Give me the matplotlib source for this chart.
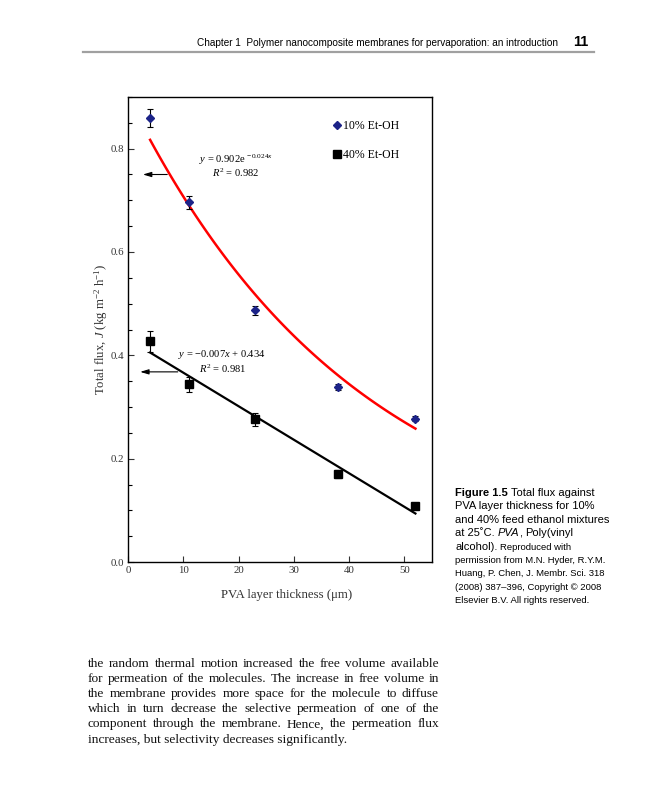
import numpy as np
import matplotlib
matplotlib.use('Agg')
import matplotlib.pyplot as plt
from matplotlib.lines import Line2D
from matplotlib.ticker import MultipleLocator

# values
thickness = [4, 11, 23, 38, 52]                      # PVA layer thickness (um)
flux_10 = [0.859, 0.696, 0.487, 0.338, 0.277]        # 10% Et-OH
err_10 = [0.018, 0.013, 0.009, 0.006, 0.005]
flux_40 = [0.427, 0.344, 0.276, 0.170, 0.109]        # 40% Et-OH
err_40 = [0.020, 0.015, 0.013, 0.008, 0.006]

header = "Chapter 1  Polymer nanocomposite membranes for pervaporation: an introduction"
page_no = "11"
body = ["the random thermal motion increased the free volume available",
        "for permeation of the molecules. The increase in free volume in",
        "the membrane provides more space for the molecule to diffuse",
        "which in turn decrease the selective permeation of one of the",
        "component through the membrane. Hence, the permeation flux",
        "increases, but selectivity decreases significantly."]

W, H = 648, 800
serif = ['Liberation Serif', 'DejaVu Serif']
sans = ['Liberation Sans', 'DejaVu Sans']

plt.rcParams['font.family'] = serif
plt.rcParams['mathtext.fontset'] = 'custom'
plt.rcParams['mathtext.rm'] = 'Liberation Serif'
plt.rcParams['mathtext.it'] = 'Liberation Serif:italic'


def px(x, y):
    return x / W, 1 - y / H


fig = plt.figure(figsize=(6.48, 8), dpi=100)
ax = fig.add_axes([128 / W, 1 - 562 / H, (432 - 128) / W, (562 - 97) / H])

blue = '#1c2388'
ax.errorbar(thickness, flux_10, yerr=err_10, fmt='D', color=blue, ms=4.5,
            ecolor='black', elinewidth=0.8, capsize=2.5, capthick=0.8, zorder=3)
ax.errorbar(thickness, flux_40, yerr=err_40, fmt='s', color='black', ms=6,
            ecolor='black', elinewidth=0.8, capsize=2.5, capthick=0.8, zorder=3)

# trend lines fitted to the points
xs = np.linspace(min(thickness), max(thickness), 100)
b, a = np.polyfit(thickness, np.log(flux_10), 1)
ax.plot(xs, np.exp(a) * np.exp(b * xs), color='red', lw=1.8, zorder=2)
m, c = np.polyfit(thickness, flux_40, 1)
ax.plot(xs, m * xs + c, color='black', lw=1.6, zorder=2)

arrow = dict(arrowstyle='-|>,head_length=0.5,head_width=0.15', color='black', lw=0.8)
ax.annotate('', xy=(2.2, 0.75), xytext=(7.6, 0.75), arrowprops=arrow)
ax.annotate('', xy=(1.7, 0.368), xytext=(9.5, 0.368), arrowprops=arrow)

ax.text(19.6, 0.778, r'$y$ = 0.902e$^{\,-0.024x}$', fontsize=7.6, ha='center', va='center')
ax.text(19.4, 0.753, r'$R^2$ = 0.982', fontsize=7.6, ha='center', va='center')
ax.text(16.9, 0.402, '$y$ = \u22120.007$x$ + 0.434', fontsize=7.6, ha='center', va='center')
ax.text(17.2, 0.374, r'$R^2$ = 0.981', fontsize=7.6, ha='center', va='center')

handles = [Line2D([], [], marker='D', color=blue, ls='none', ms=4.5),
           Line2D([], [], marker='s', color='black', ls='none', ms=6)]
ax.legend(handles, ['10% Et-OH', '40% Et-OH'], loc='upper left',
          bbox_to_anchor=(0.675, 0.95), frameon=False, fontsize=8.5,
          handlelength=0.7, handletextpad=0.15, borderpad=0, borderaxespad=0,
          labelspacing=1.45)

ax.set_xlim(0, 55)
ax.set_ylim(0, 0.9)
ax.xaxis.set_major_locator(MultipleLocator(10))
ax.yaxis.set_major_locator(MultipleLocator(0.2))
ax.yaxis.set_minor_locator(MultipleLocator(0.05))
ax.tick_params(axis='both', which='major', direction='in', length=4, width=0.8,
               labelsize=7.8, pad=3, colors='#333333', labelcolor='#333333')
ax.tick_params(axis='y', which='minor', direction='in', length=3, width=0.8)
for s in ax.spines.values():
    s.set_linewidth(1.0)
ax.set_ylabel('Total flux, $J$ (kg m$^{-2}$ h$^{-1}$)', fontsize=9.2, color='#333333')
ax.yaxis.set_label_coords(-0.06, 0.5)
ax.set_xlabel('PVA layer thickness (\u03bcm)', fontsize=9.2, color='#333333')
ax.xaxis.set_label_coords(0.52, -0.058)

# page header
fig.text(*px(558, 46), header, family=sans, fontsize=7.2, ha='right', va='baseline')
fig.text(*px(573, 46), page_no, family=sans, fontsize=10.5, weight='bold', va='baseline')
fig.add_artist(Line2D([83 / W, 594 / W], [1 - 52 / H] * 2, color='#a0a0a0', lw=1.6))

renderer = fig.canvas.get_renderer()


def put_line(pieces, x, y):
    # pieces: (text, kwargs, gap after)
    for txt, kw, gap in pieces:
        t = fig.text(*px(x, y), txt, va='baseline', **kw)
        x += t.get_window_extent(renderer).width + gap


big = dict(family=sans, fontsize=8.0)
small = dict(family=sans, fontsize=6.8)
caption = [
    [("Figure 1.5", dict(big, weight='bold'), 3), ("Total flux against", big, 0)],
    [("PVA layer thickness for 10%", big, 0)],
    [("and 40% feed ethanol mixtures", big, 0)],
    [("at 25\u02daC.", big, 3), ("PVA", dict(big, style='italic'), 0), (",", big, 3),
     ("Poly(vinyl", big, 0)],
    [("alcohol).", big, 3), ("Reproduced with", small, 0)],
    [("permission from M.N. Hyder, R.Y.M.", small, 0)],
    [("Huang, P. Chen, J. Membr. Sci. 318", small, 0)],
    [("(2008) 387\u2013396, Copyright \u00a9 2008", small, 0)],
    [("Elsevier B.V. All rights reserved.", small, 0)],
]
for i, line in enumerate(caption):
    put_line(line, 455, 496 + i * 13.4)

# body text, justified like the page
for i, line in enumerate(body):
    y = 667 + i * 15.1
    if i == len(body) - 1:
        fig.text(*px(88, y), line, fontsize=9.6, va='baseline', color='#111111')
        continue
    words = line.split()
    texts = [fig.text(0, 0, w, fontsize=9.6, va='baseline', color='#111111') for w in words]
    widths = [t.get_window_extent(renderer).width for t in texts]
    gap = (439 - 88 - sum(widths)) / (len(words) - 1)
    x = 88
    for t, w in zip(texts, widths):
        t.set_position(px(x, y))
        x += w + gap

fig.savefig('out.png', dpi=100)
